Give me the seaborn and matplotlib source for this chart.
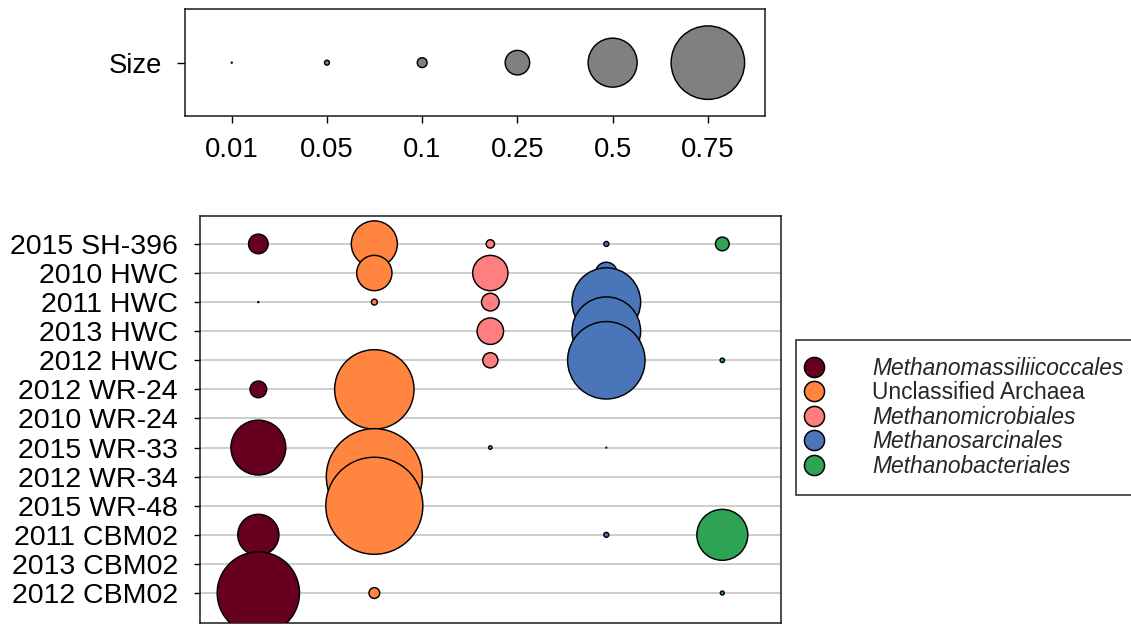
import numpy as np
import pandas as pd
import matplotlib
matplotlib.use("Agg")
import matplotlib.pyplot as plt
from matplotlib.lines import Line2D
import seaborn as sns

# ---- data -------------------------------------------------------------
samples = ["2015 SH-396", "2010 HWC", "2011 HWC", "2013 HWC", "2012 HWC",
           "2012 WR-24", "2010 WR-24", "2015 WR-33", "2012 WR-34", "2015 WR-48",
           "2011 CBM02", "2013 CBM02", "2012 CBM02"]
orders = ["Methanomassiliicoccales", "Unclassified Archaea", "Methanomicrobiales",
          "Methanosarcinales", "Methanobacteriales"]
order_colors = ["#67001F", "#FF8540", "#FF7F80", "#4A76B9", "#2FA354"]
italic_names = [True, False, True, True, True]

nan = np.nan
# relative abundance of each order per sample (same order as `samples`)
methanomassiliicoccales = [0.20, nan, 0.01, nan, nan, 0.17, nan, 0.56, nan, nan, 0.42, nan, 0.84]
unclassified_archaea = [0.47, 0.36, 0.06, nan, nan, 0.81, nan, nan, 0.98, 0.99, nan, nan, 0.11]
methanomicrobiales = [0.085, 0.36, 0.18, 0.27, 0.155, nan, nan, 0.035, nan, nan, nan, nan, nan]
methanosarcinales = [0.05, 0.22, 0.70, 0.70, 0.79, nan, nan, 0.008, nan, nan, 0.05, nan, nan]
methanobacteriales = [0.14, nan, nan, nan, 0.045, nan, nan, nan, nan, nan, 0.52, nan, 0.04]

size_values = [0.01, 0.05, 0.1, 0.25, 0.5, 0.75]
size_labels = ["0.01", "0.05", "0.1", "0.25", "0.5", "0.75"]

abundance = [methanomassiliicoccales, unclassified_archaea, methanomicrobiales,
             methanosarcinales, methanobacteriales]

# long table, sample-major so lower rows are drawn on top
records = []
for i, s in enumerate(samples):
    for j, o in enumerate(orders):
        records.append({"sample": s, "order": o, "abundance": abundance[j][i]})
df = pd.DataFrame(records)
df["sample"] = pd.Categorical(df["sample"], categories=samples, ordered=True)
df["order"] = pd.Categorical(df["order"], categories=orders, ordered=True)

size_df = pd.DataFrame({"label": pd.Categorical(size_labels, categories=size_labels, ordered=True),
                        "row": ["Size"] * len(size_labels),
                        "value": size_values})

# ---- styling ----------------------------------------------------------
sns.set_style("white")
plt.rcParams["font.family"] = ["Liberation Sans", "DejaVu Sans"]

DPI = 100
PX_PER_UNIT = 98.0  # bubble diameter in pixels for an abundance of 1.0
EDGE_LW = 1.05


def area(v):
    d_pt = PX_PER_UNIT * v * 72.0 / DPI
    return d_pt ** 2


all_vals = sorted(set(df["abundance"].dropna().tolist()) | set(size_values))
size_map = {v: area(v) for v in all_vals}

W, H = 1131, 632
fig = plt.figure(figsize=(W / DPI, H / DPI), dpi=DPI)

# ---- size key panel ---------------------------------------------------
ax_key = fig.add_axes([184.7 / W, 1 - 116 / H, (765 - 184.7) / W, (116 - 9.3) / H])
sns.scatterplot(data=size_df, x="label", y="row", size="value", sizes=size_map,
                color="#808080", edgecolor="black", linewidth=EDGE_LW, legend=False,
                ax=ax_key, zorder=3)
ax_key.set_xlim(-0.494, 5.6)
ax_key.set_ylim(-0.5, 0.5)
ax_key.set_xlabel("")
ax_key.set_ylabel("")
ax_key.tick_params(axis="x", bottom=True, length=5, width=1, pad=10,
                   labelsize=19.8, colors="black", direction="out")
ax_key.tick_params(axis="y", left=True, length=5.5, width=1, pad=11,
                   labelsize=19.8, colors="black", direction="out")
for sp in ax_key.spines.values():
    sp.set_visible(True)
    sp.set_color("#1a1a1a")
    sp.set_linewidth(1.1)

# ---- main bubble panel ------------------------------------------------
ax = fig.add_axes([200 / W, 1 - 623 / H, (781 - 200) / W, (623 - 215.7) / H])
sns.scatterplot(data=df, x="order", y="sample", hue="order", size="abundance",
                palette=dict(zip(orders, order_colors)), sizes=size_map,
                edgecolor="black", linewidth=EDGE_LW, legend=False, ax=ax, zorder=3)
ax.set_xlim(-0.503, 4.506)
ax.set_ylim(12 + 1.03, -0.97)
ax.set_xlabel("")
ax.set_ylabel("")
ax.set_yticks(range(len(samples)))
ax.set_yticklabels(samples)
ax.set_axisbelow(True)
ax.grid(axis="y", color="#cdcdcd", linewidth=1.4)
ax.grid(axis="x", visible=False)
ax.tick_params(axis="x", bottom=False, labelbottom=False)
ax.tick_params(axis="y", left=True, length=4.5, width=1, pad=11.5,
               labelsize=20.5, colors="black", direction="out")
for sp in ax.spines.values():
    sp.set_visible(True)
    sp.set_color("#1a1a1a")
    sp.set_linewidth(1.1)

# ---- colour legend ----------------------------------------------------
handles = [Line2D([], [], marker="o", linestyle="", markersize=14.5,
                  markerfacecolor=c, markeredgecolor="black", markeredgewidth=1.1)
           for c in order_colors]
leg = fig.legend(handles, orders, loc="upper left",
                 bbox_to_anchor=(796 / W, 1 - 340 / H), bbox_transform=fig.transFigure,
                 borderaxespad=0, frameon=True, fancybox=False, shadow=False,
                 edgecolor="black", fontsize=16.4, labelspacing=0.06,
                 handlelength=0.1, handletextpad=2.5, borderpad=0.75)
leg.get_frame().set_linewidth(1.2)
for t, it in zip(leg.get_texts(), italic_names):
    if it:
        t.set_fontstyle("italic")

fig.savefig("out.png", dpi=DPI)
